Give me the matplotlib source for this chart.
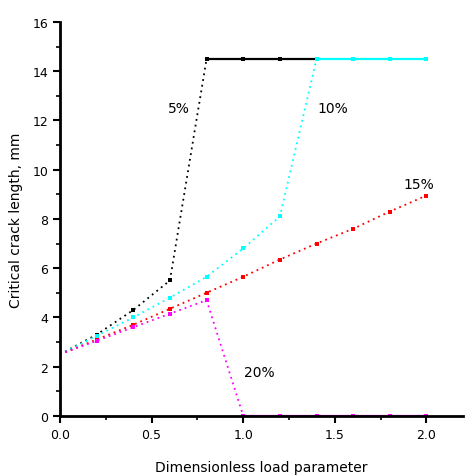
import matplotlib
matplotlib.use("Agg")
import matplotlib.pyplot as plt

# 5 %: rises steeply, then saturates
x5_rise = [0.0, 0.2, 0.4, 0.6, 0.8]
y5_rise = [2.5, 3.3, 4.3, 5.5, 14.5]
x5_flat = [0.8, 1.0, 1.2, 1.4]
y5_flat = [14.5, 14.5, 14.5, 14.5]

# 10 %
x10_rise = [0.0, 0.2, 0.4, 0.6, 0.8, 1.0, 1.2, 1.4]
y10_rise = [2.5, 3.25, 4.0, 4.8, 5.65, 6.8, 8.1, 14.5]
x10_flat = [1.4, 1.6, 1.8, 2.0]
y10_flat = [14.5, 14.5, 14.5, 14.5]

# 15 %
x15 = [0.0, 0.2, 0.4, 0.6, 0.8, 1.0, 1.2, 1.4, 1.6, 1.8, 2.0]
y15 = [2.5, 3.1, 3.7, 4.35, 5.0, 5.65, 6.35, 7.0, 7.6, 8.3, 8.95]

# 20 %: drops to zero
x20_rise = [0.0, 0.2, 0.4, 0.6, 0.8, 1.0]
y20_rise = [2.5, 3.05, 3.6, 4.15, 4.7, 0.0]
x20_flat = [1.0, 1.2, 1.4, 1.6, 1.8, 2.0]
y20_flat = [0.0, 0.0, 0.0, 0.0, 0.0, 0.0]

labels = ["5%", "10%", "15%", "20%"]
label_pos = [(0.65, 12.5), (1.49, 12.5), (1.96, 9.4), (1.09, 1.8)]

fig = plt.figure(figsize=(4.65, 4.77), dpi=100)
ax = fig.add_axes([0.129, 0.126, 0.867, 0.826])

mk = dict(marker="s", markersize=3.5, markeredgewidth=0, markevery=slice(1, None))
dot = dict(linestyle=(0, (1, 2.2)), linewidth=1.3)
solid = dict(linestyle="-", linewidth=1.6)

ax.plot(x5_rise, y5_rise, color="black", **dot, **mk)
ax.plot(x5_flat, y5_flat, color="black", **solid, **mk)
ax.plot(x10_rise, y10_rise, color="cyan", **dot, **mk)
ax.plot(x10_flat, y10_flat, color="cyan", **solid, **mk)
ax.plot(x15, y15, color="red", **dot, **mk)
ax.plot(x20_rise, y20_rise, color="magenta", **dot, **mk)
ax.plot(x20_flat, y20_flat, color="magenta", **solid, marker="s",
        markersize=3.5, markeredgewidth=0)

for t, (tx, ty) in zip(labels, label_pos):
    ax.text(tx, ty, t, fontsize=10, ha="center", va="center", color="black")

ax.set_xlim(0, 2.2)
ax.set_ylim(0, 16)
ax.set_xticks([0.0, 0.5, 1.0, 1.5, 2.0])
ax.set_xticklabels(["0.0", "0.5", "1.0", "1.5", "2.0"])
ax.set_xticks([0.25, 0.75, 1.25, 1.75], minor=True)
ax.set_yticks(range(0, 17, 2))
ax.set_yticks(range(1, 17, 2), minor=True)

for side in ("top", "right"):
    ax.spines[side].set_visible(False)
for side in ("left", "bottom"):
    ax.spines[side].set_linewidth(2)

ax.tick_params(which="major", direction="out", length=5, width=1.5, labelsize=9)
ax.tick_params(which="minor", direction="out", length=3, width=1.2)

ax.set_xlabel("Dimensionless load parameter", fontsize=10, labelpad=14)
ax.set_ylabel("Critical crack length, mm", fontsize=10, labelpad=7)

fig.savefig("out.png", dpi=100)
